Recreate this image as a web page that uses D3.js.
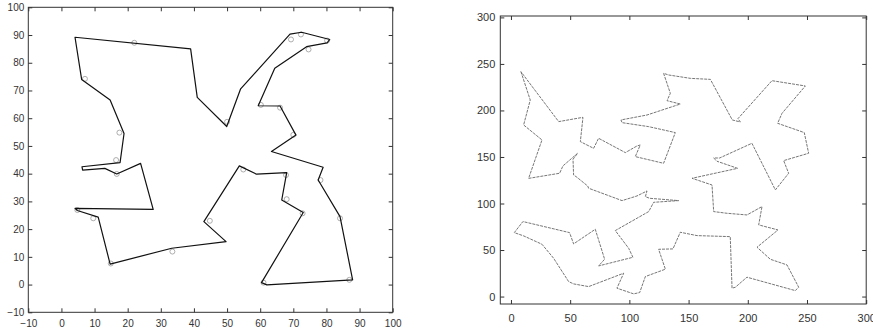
<!DOCTYPE html>
<html>
<head>
<meta charset="utf-8">
<script src="https://cdn.jsdelivr.net/npm/d3@7"></script>
<style>
  html, body { margin: 0; padding: 0; background: #fff; }
  svg { display: block; }
  .tick text { font-family: "Liberation Sans", Arial, sans-serif; fill: #333; }
</style>
</head>
<body>
<svg id="chart" width="873" height="330"></svg>
<script>
// Left panel: 25-city tour (elastic net path) and the city positions
const netPathA = [
  [4.1, 89.2], [39.0, 85.0], [41.0, 67.5], [49.9, 57.0], [54.1, 70.6],
  [69.0, 90.3], [72.5, 91.0], [81.0, 88.4], [80.2, 87.2], [74.0, 85.8],
  [64.4, 78.0], [59.4, 64.5], [66.0, 64.4], [70.8, 53.9], [63.4, 48.0],
  [79.0, 42.3], [77.5, 37.7], [84.1, 24.5], [87.9, 1.7], [62.0, -0.1],
  [60.4, 0.7], [73.0, 26.0], [66.5, 30.5], [68.0, 40.4], [58.9, 39.8],
  [53.7, 42.8], [43.0, 22.7], [49.7, 15.5], [33.3, 13.1], [14.7, 7.4],
  [11.1, 24.3], [4.8, 26.7], [4.1, 27.5], [27.7, 27.1], [23.9, 43.7],
  [16.7, 39.9], [13.1, 41.9], [6.4, 41.3], [6.2, 42.5], [17.7, 44.0],
  [18.9, 54.5], [14.7, 66.6], [6.1, 74.0]
];
const citiesA = [
  [22.0, 87.2], [7.1, 74.2], [17.5, 54.8], [16.5, 44.9], [16.7, 39.9],
  [9.6, 23.9], [4.8, 26.9], [14.9, 7.6], [33.5, 11.9], [44.8, 23.0],
  [54.9, 41.5], [67.8, 39.5], [68.0, 30.8], [72.8, 25.7], [61.0, 0.7],
  [86.9, 1.7], [84.1, 23.9], [78.2, 37.7], [70.0, 54.0], [66.0, 63.8],
  [60.2, 64.8], [74.6, 84.8], [80.2, 88.0], [72.3, 90.2], [69.3, 88.4],
  [50.0, 58.7]
];
const ticksA = [-10, 0, 10, 20, 30, 40, 50, 60, 70, 80, 90, 100];

// Right panel: large tour
const netPathB = [
  [8.4, 241.7], [16.3, 211.2], [10.7, 184.4], [26.2, 168.3], [14.9, 127.0],
  [41.1, 132.5], [43.9, 140.4], [56.3, 154.0], [52.4, 147.5], [52.9, 130.7],
  [55.7, 128.2], [64.8, 118.8], [65.6, 116.4], [93.8, 103.1], [106.4, 108.1],
  [114.9, 113.5], [113.5, 107.4], [117.1, 105.6], [141.6, 103.1], [120.5, 101.3],
  [116.3, 91.3], [88.1, 70.9], [99.4, 51.9], [103.0, 42.2], [74.0, 32.9],
  [79.1, 40.1], [71.2, 72.3], [52.9, 56.6], [49.5, 68.7], [10.1, 80.6],
  [2.8, 68.7], [10.7, 65.2], [26.2, 56.2], [36.0, 41.2], [48.7, 16.1],
  [52.9, 13.6], [65.6, 10.7], [95.2, 25.1], [89.5, 9.0], [103.6, 2.9],
  [108.7, 4.3], [113.5, 21.5], [130.4, 29.4], [124.7, 50.8], [136.8, 51.2],
  [143.0, 69.1], [157.1, 65.5], [185.2, 64.4], [186.7, 9.0], [189.5, 10.0],
  [199.3, 20.8], [240.1, 6.4], [243.0, 10.0], [233.1, 34.0], [219.0, 40.1],
  [207.8, 53.0], [225.5, 71.6], [209.2, 77.0], [212.0, 96.7], [199.3, 87.7],
  [182.4, 89.5], [171.2, 91.3], [169.8, 119.9], [152.9, 127.1], [191.4, 137.8],
  [174.0, 145.4], [171.2, 148.9], [176.2, 148.9], [203.5, 164.7], [223.3, 114.6],
  [234.5, 132.5], [230.3, 146.1], [251.4, 154.0], [247.7, 176.2], [225.2, 186.2],
  [228.9, 196.9], [248.6, 226.3], [220.4, 232.0], [191.7, 191.2], [193.7, 187.6],
  [186.9, 189.8], [168.4, 233.4], [151.5, 234.5], [133.2, 238.1], [128.9, 239.9],
  [134.6, 218.4], [131.8, 210.5], [143.0, 206.9], [114.9, 195.1], [92.9, 189.8],
  [93.8, 186.9], [116.3, 182.6], [138.8, 176.2], [128.9, 143.2], [105.0, 150.4],
  [109.2, 162.9], [106.4, 161.8], [96.6, 154.7], [74.0, 170.1], [69.8, 159.3],
  [58.6, 166.5], [60.8, 192.6], [40.3, 188.0]
];
const ticksB = [0, 50, 100, 150, 200, 250, 300];

const svg = d3.select("#chart");

function drawFrame(g, x, y, ticksX, ticksY, opts) {
  const [x0, x1] = x.range();
  const [y0, y1] = y.range();
  const tl = 4;
  // bottom axis, ticks pointing inward
  g.append("g").attr("transform", `translate(0,${y0})`)
    .call(d3.axisBottom(x).tickValues(ticksX).tickSize(-tl).tickPadding(opts.padX).tickFormat(d3.format("d")))
    .call(a => a.select(".domain").remove())
    .call(a => a.selectAll("text").attr("font-size", opts.fs));
  // top mirror ticks
  g.append("g").attr("transform", `translate(0,${y1})`)
    .call(d3.axisTop(x).tickValues(ticksX).tickSize(-tl).tickFormat(""))
    .call(a => a.select(".domain").remove());
  // left axis
  g.append("g").attr("transform", `translate(${x0},0)`)
    .call(d3.axisLeft(y).tickValues(ticksY).tickSize(-tl).tickPadding(opts.padY).tickFormat(d3.format("d")))
    .call(a => a.select(".domain").remove())
    .call(a => a.selectAll("text").attr("font-size", opts.fs));
  // right mirror ticks
  g.append("g").attr("transform", `translate(${x1},0)`)
    .call(d3.axisRight(y).tickValues(ticksY).tickSize(-tl).tickFormat(""))
    .call(a => a.select(".domain").remove());
  g.selectAll(".tick line").attr("stroke", "#333");
  g.append("rect")
    .attr("x", x0).attr("y", y1)
    .attr("width", x1 - x0).attr("height", y0 - y1)
    .attr("fill", "none").attr("stroke", "#333").attr("stroke-width", 1);
}

// ---- left panel ----
const xA = d3.scaleLinear().domain([-10, 100]).range([28.3, 392.7]);
const yA = d3.scaleLinear().domain([-10, 100]).range([312.3, 7.3]);
const gA = svg.append("g");
drawFrame(gA, xA, yA, ticksA, ticksA, { fs: 10, padX: 8, padY: 4 });

gA.append("g").selectAll("circle").data(citiesA).join("circle")
  .attr("cx", d => xA(d[0])).attr("cy", d => yA(d[1])).attr("r", 2.5)
  .attr("fill", "none").attr("stroke", "#999").attr("stroke-width", 0.8);

gA.append("path")
  .attr("d", d3.line().x(d => xA(d[0])).y(d => yA(d[1])).curve(d3.curveLinearClosed)(netPathA))
  .attr("fill", "none").attr("stroke", "#111").attr("stroke-width", 1.2)
  .attr("stroke-linejoin", "round");

// ---- right panel ----
const xB = d3.scaleLinear().domain([-9, 300]).range([500.3, 866.2]);
const yB = d3.scaleLinear().domain([-8, 301.5]).range([304, 16]);
const gB = svg.append("g");
drawFrame(gB, xB, yB, ticksB, ticksB, { fs: 11, padX: 10, padY: 5 });

gB.append("path")
  .attr("d", d3.line().x(d => xB(d[0])).y(d => yB(d[1])).curve(d3.curveLinearClosed)(netPathB))
  .attr("fill", "none").attr("stroke", "#666").attr("stroke-width", 0.9)
  .attr("stroke-dasharray", "3,1")
  .attr("stroke-linejoin", "round");
</script>
</body>
</html>
